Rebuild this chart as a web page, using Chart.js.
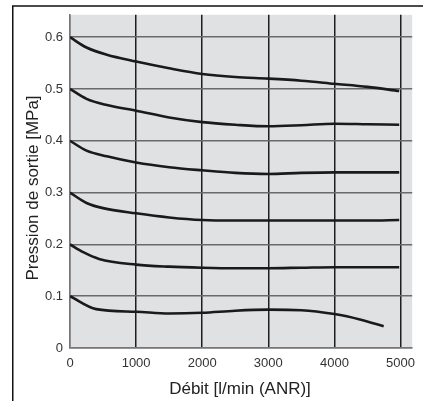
<!DOCTYPE html>
<html><head><meta charset="utf-8">
<script src="https://cdn.jsdelivr.net/npm/chart.js@4"></script>
<style>html,body{margin:0;padding:0;background:#fff}#wrap{width:423px;height:401px}</style>
</head><body><div id="wrap"><canvas id="c" width="423" height="401"></canvas></div>
<script>
// Débit [l/min (ANR)] sample points for each set pressure curve
const flow06 = [0, 250, 557, 1000, 1500, 2000, 2500, 3000, 3500, 4000, 4500, 4980];
const pres06 = [0.600, 0.580, 0.566, 0.553, 0.540, 0.529, 0.523, 0.520, 0.516, 0.510, 0.504, 0.496];
const flow05 = [0, 250, 557, 1000, 1500, 2000, 2500, 3000, 3500, 4000, 4500, 4980];
const pres05 = [0.500, 0.481, 0.469, 0.458, 0.445, 0.436, 0.431, 0.428, 0.430, 0.433, 0.432, 0.431];
const flow04 = [0, 250, 557, 1000, 1500, 2000, 2500, 3000, 3500, 4000, 4500, 4980];
const pres04 = [0.400, 0.381, 0.370, 0.358, 0.349, 0.343, 0.338, 0.336, 0.338, 0.339, 0.339, 0.339];
const flow03 = [0, 250, 500, 1000, 1500, 2000, 2500, 3000, 3500, 4000, 4500, 4980];
const pres03 = [0.300, 0.280, 0.270, 0.260, 0.252, 0.247, 0.246, 0.246, 0.246, 0.246, 0.246, 0.247];
const flow02 = [0, 200, 440, 1000, 1500, 2000, 2500, 3000, 3500, 4000, 4500, 4980];
const pres02 = [0.200, 0.185, 0.172, 0.161, 0.157, 0.155, 0.154, 0.154, 0.155, 0.156, 0.156, 0.156];
const flow01 = [0, 396, 1000, 1500, 2000, 2500, 3000, 3500, 4000, 4400, 4745];
const pres01 = [0.100, 0.075, 0.070, 0.0665, 0.068, 0.072, 0.074, 0.073, 0.0655, 0.0546, 0.042];
const xTicks = [0, 1000, 2000, 3000, 4000, 5000];
const yTicks = [0, 0.1, 0.2, 0.3, 0.4, 0.5, 0.6];
const xTitle = 'Débit [l/min (ANR)]';
const yTitle = 'Pression de sortie [MPa]';

const curves = [[flow06,pres06],[flow05,pres05],[flow04,pres04],[flow03,pres03],[flow02,pres02],[flow01,pres01]];
const FONT = "'Liberation Sans', Arial, sans-serif";

const decor = {
  id: 'decor',
  beforeDraw(chart) {
    const {ctx, chartArea: a} = chart;
    ctx.save();
    ctx.fillStyle = '#e0e1e3';
    ctx.fillRect(a.left, a.top, a.right - a.left, a.bottom - a.top);
    ctx.restore();
  },
  afterDraw(chart) {
    const {ctx} = chart;
    ctx.save();
    ctx.strokeStyle = '#111';
    ctx.lineWidth = 1.5;
    ctx.beginPath();
    ctx.moveTo(12.75, 401);
    ctx.lineTo(12.75, 6);
    ctx.lineTo(423, 6);
    ctx.stroke();
    ctx.fillStyle = '#222';
    ctx.font = '17px ' + FONT;
    ctx.textAlign = 'center';
    ctx.textBaseline = 'middle';
    ctx.fillText(xTitle, 240, 389);
    ctx.translate(33, 188);
    ctx.rotate(-Math.PI / 2);
    ctx.fillText(yTitle, 0, 0);
    ctx.restore();
  }
};

new Chart(document.getElementById('c'), {
  type: 'scatter',
  data: {
    datasets: curves.map(([xs, ys]) => ({
      data: xs.map((x, i) => ({x, y: ys[i]})),
      showLine: true,
      borderColor: '#1a1a1a',
      borderWidth: 2.6,
      pointRadius: 0,
      fill: false,
      cubicInterpolationMode: 'monotone'
    }))
  },
  options: {
    responsive: false,
    animation: false,
    devicePixelRatio: 1,
    layout: {padding: {top: 6, left: 0, right: 0, bottom: 0}},
    plugins: {legend: {display: false}, tooltip: {enabled: false}},
    scales: {
      x: {
        type: 'linear', min: 0, max: 5176,
        afterFit(s) { s.height = 53; },
        afterBuildTicks(s) { s.ticks = xTicks.map(v => ({value: v})); },
        ticks: {padding: 8, color: '#333', font: {family: FONT, size: 13}, maxRotation: 0, autoSkip: false, callback: v => String(v)},
        grid: {color: c => c.tick && c.tick.value === 0 ? '#777' : '#1e1e1e', lineWidth: 1.5, drawTicks: false},
        border: {color: '#777', width: 1.5}
      },
      y: {
        type: 'linear', min: 0, max: 0.6432,
        afterFit(s) { s.width = 70; },
        afterBuildTicks(s) { s.ticks = yTicks.map(v => ({value: v})); },
        ticks: {padding: 7, color: '#333', font: {family: FONT, size: 13}, callback: v => v === 0 ? '0' : v.toFixed(1)},
        grid: {color: '#6a6a6a', lineWidth: 1.5, drawTicks: false},
        border: {color: '#777', width: 1.5}
      }
    }
  },
  plugins: [decor]
});
</script></body></html>
